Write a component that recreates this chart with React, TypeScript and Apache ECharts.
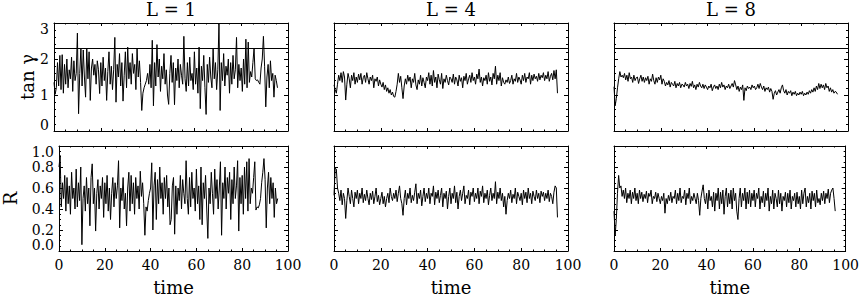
import React, { useEffect, useRef } from "react";
import * as echarts from "echarts";

const titles = ["L = 1", "L = 4", "L = 8"];
const xTickLabels = ["0", "20", "40", "60", "80", "100"];
const timeStep = 0.5;
const tanRefLine = 2.3;

const tan1 = [
  1.35, 1.02, 1.2, 1.9, 1.25, 2.1, 1.15, 2.12, 1.05, 1.85, 1.3, 2.0, 1.2, 1.7, 1.45, 2.05, 1.1, 1.95, 1.4, 1.6,
  2.72, 0.48, 1.6, 2.3, 1.25, 2.25, 1.5, 0.94, 2.3, 1.45, 2.2, 0.85, 1.75, 2.0, 1.55, 1.85, 1.3, 1.95, 1.7, 1.04,
  1.9, 1.25, 2.05, 1.4, 1.75, 0.85, 1.65, 2.2, 1.3, 1.8, 1.15, 1.7, 2.6, 0.8, 1.85, 1.5, 2.15, 1.25, 1.9, 0.83,
  1.55, 2.2, 1.2, 2.33, 1.45, 1.9, 1.3, 2.15, 1.6, 1.85, 1.15, 2.3, 1.5, 1.95, 1.35, 0.57, 1.05, 1.2, 1.3, 1.4,
  1.6, 1.3, 1.85, 1.2, 2.52, 0.7, 1.9, 1.25, 2.4, 1.5, 2.0, 1.1, 1.8, 1.45, 2.15, 1.3, 1.7, 1.0, 0.74, 1.6,
  2.1, 1.35, 1.9, 0.73, 1.75, 1.4, 2.0, 1.2, 1.85, 1.55, 1.3, 2.63, 1.45, 1.1, 1.9, 1.25, 2.05, 1.4, 1.6, 1.15,
  2.2, 1.3, 1.75, 1.05, 2.33, 0.62, 1.8, 1.4, 2.1, 1.2, 0.46, 1.85, 1.35, 2.05, 1.5, 1.2, 2.3, 1.45, 1.9, 1.15,
  1.7, 3.0, 0.57, 1.9, 1.4, 2.15, 1.25, 1.8, 1.55, 2.0, 1.05, 1.9, 1.3, 2.1, 1.45, 1.7, 2.6, 1.2, 1.85, 1.4,
  1.75, 1.1, 2.0, 1.3, 2.55, 1.2, 2.47, 1.35, 1.65, 1.5, 1.9, 2.3, 1.45, 1.4, 1.42, 1.35, 1.3, 1.75, 2.0, 2.63,
  1.8, 0.67, 1.5, 1.85, 1.2, 1.95, 1.4, 1.6, 0.94, 1.55, 1.4, 1.2,
];

const r1 = [
  0.8, 0.91, 0.42, 0.65, 0.5, 0.72, 0.38, 0.7, 0.45, 0.62, 0.35, 0.75, 0.5, 0.6, 0.4, 0.78, 0.42, 0.65, 0.48, 0.8,
  0.06, 0.5, 0.62, 0.38, 0.7, 0.45, 0.6, 0.24, 0.7, 0.83, 0.45, 0.6, 0.19, 0.55, 0.68, 0.4, 0.62, 0.5, 0.7, 0.32,
  0.65, 0.45, 0.72, 0.38, 0.6, 0.3, 0.55, 0.7, 0.42, 0.65, 0.5, 0.62, 0.86, 0.22, 0.6, 0.48, 0.7, 0.4, 0.55, 0.24,
  0.6, 0.75, 0.38, 0.72, 0.45, 0.65, 0.35, 0.7, 0.5, 0.62, 0.4, 0.76, 0.52, 0.65, 0.45, 0.15, 0.42, 0.38, 0.48, 0.55,
  0.6, 0.84, 0.2, 0.62, 0.75, 0.3, 0.68, 0.45, 0.8, 0.5, 0.65, 0.35, 0.7, 0.5, 0.72, 0.42, 0.6, 0.25, 0.3, 0.62,
  0.7, 0.16, 0.62, 0.35, 0.6, 0.48, 0.72, 0.4, 0.68, 0.55, 0.45, 0.86, 0.5, 0.35, 0.7, 0.42, 0.75, 0.5, 0.6, 0.38,
  0.78, 0.45, 0.62, 0.3, 0.8, 0.25, 0.65, 0.5, 0.72, 0.4, 0.12, 0.6, 0.45, 0.75, 0.55, 0.35, 0.78, 0.5, 0.68, 0.4,
  0.6, 0.85, 0.15, 0.65, 0.5, 0.8, 0.4, 0.7, 0.55, 0.75, 0.3, 0.68, 0.45, 0.8, 0.5, 0.62, 0.86, 0.19, 0.7, 0.45,
  0.72, 0.35, 0.8, 0.5, 0.85, 0.38, 0.88, 0.45, 0.6, 0.55, 0.7, 0.85, 0.39, 0.42, 0.41, 0.44, 0.5, 0.65, 0.75, 0.88,
  0.68, 0.22, 0.6, 0.75, 0.45, 0.7, 0.5, 0.65, 0.32, 0.6, 0.45, 0.5,
];

const tan4 = [
  1.28, 1.15, 1.05, 1.3, 1.55, 1.4, 1.62, 1.35, 1.65, 1.5, 0.86, 1.3, 1.6, 1.45, 1.2, 1.55, 1.4, 1.62, 1.3, 1.5,
  1.35, 1.58, 1.42, 1.6, 1.3, 1.48, 1.55, 1.35, 1.62, 1.45, 1.3, 1.5, 1.4, 1.55, 1.2, 1.45, 1.38, 1.5, 1.25, 1.42,
  1.3, 1.22, 1.35, 1.15, 1.28, 1.1, 1.2, 1.05, 1.15, 1.0, 1.08, 0.96, 0.94, 1.1, 1.3, 1.6, 1.35, 1.52, 1.2, 0.9,
  1.25, 1.45, 1.3, 1.55, 1.38, 1.5, 1.2, 1.45, 1.35, 1.6, 1.28, 1.15, 1.42, 1.3, 1.55, 1.25, 1.48, 1.35, 1.2, 1.5,
  1.4, 1.62, 1.3, 1.55, 1.25, 1.68, 1.35, 1.5, 1.2, 1.58, 1.42, 1.3, 1.6, 1.18, 1.45, 1.35, 1.55, 1.4, 1.28, 1.5,
  1.45, 1.35, 1.58, 1.3, 1.5, 1.42, 1.25, 1.55, 1.38, 1.48, 1.2, 1.52, 1.4, 1.6, 1.3, 1.45, 1.55, 1.35, 1.62, 1.4,
  1.5, 1.3, 1.58, 1.45, 1.72, 1.35, 1.5, 1.25, 1.48, 1.4, 1.55, 1.3, 1.62, 1.38, 1.5, 1.28, 1.6, 1.45, 1.8, 1.3,
  1.55, 1.4, 1.62, 1.25, 1.48, 1.35, 1.3, 1.42, 1.35, 1.5, 1.32, 1.4, 1.55, 1.3, 1.45, 1.38, 1.6, 1.35, 1.5, 1.42,
  1.3, 1.55, 1.4, 1.6, 1.35, 1.5, 1.45, 1.62, 1.3, 1.55, 1.4, 1.58, 1.45, 1.52, 1.38, 1.6, 1.42, 1.55, 1.48, 1.62,
  1.4, 1.55, 1.45, 1.65, 1.38, 1.52, 1.6, 1.42, 1.68, 1.45, 1.7, 1.05,
];

const r4 = [
  0.53, 0.79, 0.78, 0.6, 0.55, 0.48, 0.58, 0.44, 0.55, 0.5, 0.31, 0.48, 0.6, 0.52, 0.45, 0.58, 0.5, 0.42, 0.56, 0.5,
  0.58, 0.45, 0.55, 0.5, 0.6, 0.46, 0.54, 0.48, 0.58, 0.5, 0.44, 0.55, 0.49, 0.57, 0.45, 0.52, 0.6, 0.47, 0.53, 0.44,
  0.5, 0.56, 0.45, 0.52, 0.42, 0.5, 0.55, 0.46, 0.6, 0.52, 0.48, 0.55, 0.5, 0.58, 0.47, 0.55, 0.62, 0.5, 0.45, 0.34,
  0.5, 0.58, 0.44, 0.55, 0.5, 0.6, 0.46, 0.53, 0.48, 0.56, 0.64, 0.45, 0.55, 0.5, 0.58, 0.43, 0.52, 0.6, 0.47, 0.55,
  0.5, 0.6, 0.45, 0.55, 0.52, 0.62, 0.44, 0.56, 0.5, 0.58, 0.46, 0.53, 0.6, 0.42, 0.55, 0.5, 0.57, 0.4, 0.52, 0.6,
  0.45, 0.55, 0.5, 0.62, 0.46, 0.56, 0.4, 0.52, 0.58, 0.48, 0.55, 0.62, 0.45, 0.53, 0.5, 0.58, 0.44, 0.56, 0.52, 0.6,
  0.47, 0.55, 0.5, 0.6, 0.45, 0.57, 0.52, 0.62, 0.46, 0.55, 0.5, 0.58, 0.44, 0.53, 0.6, 0.48, 0.55, 0.5, 0.66, 0.45,
  0.56, 0.5, 0.6, 0.48, 0.55, 0.42, 0.52, 0.35, 0.48, 0.55, 0.5, 0.58, 0.46, 0.54, 0.5, 0.6, 0.45, 0.56, 0.52, 0.48,
  0.55, 0.44, 0.58, 0.5, 0.56, 0.46, 0.6, 0.5, 0.55, 0.45, 0.57, 0.52, 0.48, 0.58, 0.5, 0.55, 0.46, 0.57, 0.52, 0.56,
  0.48, 0.55, 0.5, 0.58, 0.47, 0.55, 0.52, 0.45, 0.56, 0.62, 0.6, 0.32,
];

const tan8 = [
  1.23, 0.7, 0.9, 1.2, 1.45, 1.65, 1.5, 1.55, 1.48, 1.6, 1.42, 1.55, 1.38, 1.62, 1.45, 1.5, 1.35, 1.55, 1.4, 1.48,
  1.5, 1.32, 1.45, 1.55, 1.38, 1.5, 1.35, 1.48, 1.4, 1.52, 1.3, 1.45, 1.38, 1.58, 1.4, 1.3, 1.48, 1.35, 1.5, 1.42,
  1.55, 1.3, 1.45, 1.38, 1.25, 1.35, 1.28, 1.4, 1.22, 1.35, 1.3, 1.25, 1.38, 1.2, 1.32, 1.25, 1.35, 1.2, 1.3, 1.28,
  1.22, 1.35, 1.25, 1.3, 1.18, 1.32, 1.24, 1.38, 1.2, 1.28, 1.15, 1.3, 1.22, 1.35, 1.25, 1.2, 1.3, 1.18, 1.28, 1.22,
  1.15, 1.25, 1.2, 1.3, 1.12, 1.22, 1.28, 1.18, 1.25, 1.15, 1.3, 1.2, 1.35, 1.22, 1.28, 1.15, 1.25, 1.2, 1.3, 1.18,
  1.25, 1.32, 1.22, 1.4, 1.28, 1.15, 1.25, 1.1, 1.22, 1.15, 1.28, 0.85, 1.2, 1.12, 1.25, 1.18, 1.22, 1.15, 1.28, 1.2,
  1.25, 1.15, 1.2, 1.3, 1.18, 1.32, 1.22, 1.15, 1.25, 1.1, 1.2, 1.15, 1.22, 1.08, 1.18, 1.1, 0.88, 1.05, 1.12, 1.0,
  1.08, 1.15, 1.05, 1.2, 1.28, 1.12, 1.05, 1.15, 1.0, 1.1, 1.05, 1.12, 0.98, 1.08, 1.02, 1.1, 0.98, 1.05, 1.0, 1.08,
  1.02, 1.1, 0.98, 1.05, 1.0, 1.08, 1.02, 1.12, 1.05, 1.15, 1.08, 1.2, 1.1, 1.25, 1.15, 1.32, 1.18, 1.3, 1.2, 1.28,
  1.15, 1.32, 1.2, 1.25, 1.1, 1.2, 1.08, 1.15, 1.05, 1.1, 1.08, 1.02,
];

const r8 = [
  0.38, 0.15, 0.3, 0.55, 0.72, 0.6, 0.62, 0.52, 0.58, 0.5, 0.6, 0.46, 0.55, 0.5, 0.58, 0.45, 0.56, 0.5, 0.6, 0.48,
  0.55, 0.45, 0.58, 0.5, 0.56, 0.47, 0.54, 0.5, 0.57, 0.46, 0.55, 0.52, 0.58, 0.45, 0.52, 0.5, 0.56, 0.47, 0.55, 0.5,
  0.45, 0.52, 0.48, 0.55, 0.36, 0.5, 0.45, 0.53, 0.48, 0.56, 0.46, 0.52, 0.5, 0.58, 0.45, 0.55, 0.48, 0.6, 0.46, 0.52,
  0.5, 0.58, 0.44, 0.55, 0.5, 0.6, 0.45, 0.52, 0.48, 0.55, 0.5, 0.45, 0.55, 0.48, 0.34, 0.5, 0.57, 0.63, 0.5, 0.45,
  0.55, 0.4, 0.58, 0.48, 0.52, 0.42, 0.56, 0.38, 0.55, 0.48, 0.6, 0.4, 0.56, 0.45, 0.58, 0.35, 0.52, 0.6, 0.42, 0.55,
  0.45, 0.58, 0.4, 0.6, 0.48, 0.55, 0.38, 0.3, 0.5, 0.6, 0.42, 0.55, 0.48, 0.6, 0.4, 0.56, 0.45, 0.58, 0.42, 0.55,
  0.48, 0.58, 0.42, 0.55, 0.5, 0.6, 0.4, 0.52, 0.46, 0.57, 0.42, 0.55, 0.48, 0.6, 0.38, 0.52, 0.45, 0.58, 0.4, 0.55,
  0.5, 0.42, 0.58, 0.45, 0.55, 0.38, 0.52, 0.48, 0.56, 0.42, 0.55, 0.46, 0.58, 0.4, 0.52, 0.48, 0.55, 0.42, 0.56, 0.45,
  0.52, 0.4, 0.58, 0.45, 0.55, 0.6, 0.42, 0.52, 0.46, 0.55, 0.4, 0.57, 0.48, 0.55, 0.42, 0.58, 0.46, 0.5, 0.44, 0.55,
  0.48, 0.57, 0.45, 0.55, 0.5, 0.59, 0.46, 0.55, 0.58, 0.6, 0.5, 0.38,
];

const tanSeries = [tan1, tan4, tan8];
const rSeries = [r1, r4, r8];

const FONT = "DejaVu Serif";
const colLefts = [54, 334, 614];
const plotW = 234;
const rowTops = [23, 146];
const rowHeights = [108, 110];

function toPairs(vals: number[]) {
  return vals.map((v, i) => [i * timeStep, v]);
}

export default function App() {
  const ref = useRef<HTMLDivElement>(null);
  useEffect(() => {
    if (!ref.current) return;
    const chart = echarts.init(ref.current, undefined, { renderer: "svg" });
    const grids: any[] = [];
    const xAxes: any[] = [];
    const yAxes: any[] = [];
    const series: any[] = [];
    const axisLine = { show: true, onZero: false, lineStyle: { color: "#000", width: 1 } };
    for (let row = 0; row < 2; row++) {
      for (let col = 0; col < 3; col++) {
        const g = grids.length;
        grids.push({ left: colLefts[col], top: rowTops[row], width: plotW, height: rowHeights[row], containLabel: false });
        const isBottom = row === 1;
        const xCommon = {
          type: "value", gridIndex: g, min: 0, max: 100, interval: 20,
          axisLine, splitLine: { show: false },
          axisTick: { show: true, inside: true, length: 3, lineStyle: { color: "#000" } },
          minorTick: { show: true, splitNumber: 4, length: 1.5, lineStyle: { color: "#000" } },
        };
        xAxes.push({
          ...xCommon, position: "bottom",
          axisLabel: {
            show: isBottom, color: "#000", fontFamily: FONT, fontSize: 14, margin: 7,
            formatter: (v: number) => xTickLabels[Math.round(v / 20)] ?? String(v),
          },
          name: isBottom ? "time" : "", nameLocation: "middle", nameGap: 27,
          nameTextStyle: { color: "#000", fontFamily: FONT, fontSize: 18 },
        });
        xAxes.push({ ...xCommon, position: "top", axisLabel: { show: false } });
        const yCommon = row === 0
          ? { min: 0, max: 3, interval: 1, minorSplit: 5 }
          : { min: 0, max: 1, interval: 0.2, minorSplit: 4 };
        const yBase = {
          type: "value", gridIndex: g, min: yCommon.min, max: yCommon.max, interval: yCommon.interval,
          axisLine, splitLine: { show: false },
          axisTick: { show: true, inside: true, length: 4, lineStyle: { color: "#000" } },
          minorTick: { show: true, splitNumber: yCommon.minorSplit, length: 2, lineStyle: { color: "#000" } },
        };
        yAxes.push({
          ...yBase, position: "left",
          axisLabel: {
            show: col === 0, color: "#000", fontFamily: FONT, fontSize: 14, lineHeight: 12, margin: 5,
            verticalAlignMinLabel: "bottom", verticalAlignMaxLabel: "top",
            formatter: (v: number) => (row === 0 ? String(Math.round(v)) : v.toFixed(1)),
          },
          name: col === 0 ? (row === 0 ? "tan γ" : "R") : "",
          nameLocation: "middle", nameRotate: 90, nameGap: row === 0 ? 18 : 40,
          nameTextStyle: { color: "#000", fontFamily: FONT, fontSize: 18 },
        });
        yAxes.push({ ...yBase, position: "right", axisLabel: { show: false } });
        const vals = row === 0 ? tanSeries[col] : rSeries[col];
        const s: any = {
          type: "line", xAxisIndex: 2 * g, yAxisIndex: 2 * g, data: toPairs(vals),
          showSymbol: false, symbol: "none", clip: true,
          lineStyle: { color: "#000", width: 1 }, itemStyle: { color: "#000" },
        };
        if (row === 0) {
          s.markLine = {
            silent: true, symbol: "none", label: { show: false },
            lineStyle: { color: "#000", width: 1, type: "solid" },
            data: [{ yAxis: tanRefLine }],
          };
        }
        series.push(s);
      }
    }
    chart.setOption({
      animation: false,
      backgroundColor: "#fff",
      grid: grids,
      xAxis: xAxes,
      yAxis: yAxes,
      series,
      graphic: titles.map((t, i) => ({
        type: "text", x: colLefts[i] + plotW / 2, y: 9,
        style: { text: t, fill: "#000", font: `18px "${FONT}"`, textAlign: "center", textVerticalAlign: "middle" },
      })),
    });
    return () => chart.dispose();
  }, []);
  return <div ref={ref} style={{ position: "fixed", left: 0, top: 0, width: 862, height: 297, background: "#fff" }} />;
}
